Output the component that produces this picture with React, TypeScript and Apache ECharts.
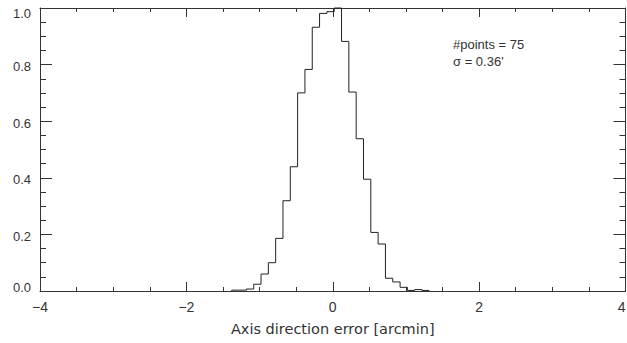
import React, { useEffect, useRef } from "react";
import * as echarts from "echarts";

const binStarts = [-1.38, -1.28, -1.18, -1.08, -0.98, -0.88, -0.78, -0.68, -0.58, -0.48, -0.38, -0.28, -0.18, -0.08, 0.02, 0.12, 0.22, 0.32, 0.42, 0.52, 0.62, 0.72, 0.82, 0.92, 1.02, 1.12, 1.22];
const binValues = [0.003, 0.003, 0.007, 0.024, 0.06, 0.1, 0.186, 0.319, 0.439, 0.7, 0.783, 0.932, 0.981, 0.987, 1.0, 0.882, 0.703, 0.538, 0.395, 0.207, 0.166, 0.045, 0.032, 0.013, 0.002, 0.005, 0.002];
const binWidth = 0.1;
const xTicks = [-4, -2, 0, 2, 4];
const yTicks = [0, 0.2, 0.4, 0.6, 0.8, 1.0];
const xTitle = "Axis direction error [arcmin]";
const annotationLines = ["#points = 75", "\u03c3 = 0.36'"];

const TICK_FONT = "Liberation Sans";
const TITLE_FONT = "DejaVu Sans";
const INK = "#333";

export default function App() {
  const ref = useRef<HTMLDivElement>(null);
  useEffect(() => {
    document.body.style.margin = "0";
    document.body.style.overflow = "hidden";
    document.documentElement.style.overflow = "hidden";
    if (!ref.current) return;
    const chart = echarts.init(ref.current, null, { renderer: "svg", width: 627, height: 343 });

    const stepData: number[][] = [[binStarts[0], 0]];
    binStarts.forEach((s, i) => stepData.push([s, binValues[i]]));
    stepData.push([binStarts[binStarts.length - 1] + binWidth, 0]);

    const baseX = {
      type: "value" as const,
      min: xTicks[0],
      max: xTicks[xTicks.length - 1],
      interval: xTicks[1] - xTicks[0],
      axisLine: { show: true, onZero: false, lineStyle: { color: INK, width: 1 } },
      axisTick: { show: true, inside: true, length: 9, lineStyle: { color: INK } },
      minorTick: { show: true, splitNumber: 4, length: 4, lineStyle: { color: INK } },
      splitLine: { show: false },
    };
    const baseY = {
      type: "value" as const,
      min: yTicks[0],
      max: yTicks[yTicks.length - 1],
      interval: yTicks[1] - yTicks[0],
      axisLine: { show: true, onZero: false, lineStyle: { color: INK, width: 1 } },
      axisTick: { show: true, inside: true, length: 12, lineStyle: { color: INK } },
      minorTick: { show: true, splitNumber: 4, length: 6, lineStyle: { color: INK } },
      splitLine: { show: false },
    };

    const yLabelStyle = { fontFamily: TICK_FONT, fontSize: 13, color: INK };

    chart.setOption({
      animation: false,
      backgroundColor: "#fff",
      grid: { left: 40, right: 1.5, top: 8, bottom: 52, containLabel: false, outerBoundsMode: "none" },
      xAxis: [
        {
          ...baseX,
          position: "bottom",
          axisLabel: {
            show: true,
            margin: 9,
            fontFamily: TICK_FONT,
            fontSize: 14,
            color: INK,
            alignMaxLabel: "right",
            formatter: (v: number) => String(v).replace("-", "\u2212"),
          },
          name: xTitle,
          nameLocation: "middle",
          nameGap: 30,
          nameTextStyle: { fontFamily: TITLE_FONT, fontSize: 14.5, color: INK },
        },
        { ...baseX, position: "top", axisLabel: { show: false } },
      ],
      yAxis: [
        {
          ...baseY,
          position: "left",
          axisLabel: {
            show: true,
            margin: 9,
            ...yLabelStyle,
            formatter: (v: number) => {
              const s = v.toFixed(1);
              if (v >= yTicks[yTicks.length - 1]) return "{t|" + s + "}";
              if (v <= yTicks[0]) return "{b|" + s + "}";
              return "{m|" + s + "}";
            },
            rich: {
              t: { ...yLabelStyle, padding: [11, 0, 0, 0] },
              b: { ...yLabelStyle, padding: [0, 0, 8, 0] },
              m: { ...yLabelStyle, padding: [4, 0, 0, 0] },
            },
          },
        },
        { ...baseY, position: "right", axisLabel: { show: false } },
      ],
      series: [
        {
          type: "line",
          step: "end",
          data: stepData,
          xAxisIndex: 0,
          yAxisIndex: 0,
          showSymbol: false,
          clip: false,
          lineStyle: { color: "#222", width: 1 },
        },
      ],
      graphic: [
        {
          type: "text",
          left: 453,
          top: 38,
          style: { text: annotationLines[0], fontFamily: TICK_FONT, fontSize: 13, fill: INK },
        },
        {
          type: "text",
          left: 453,
          top: 55,
          style: { text: annotationLines[1], fontFamily: TICK_FONT, fontSize: 13, fill: INK },
        },
      ],
    });
    return () => chart.dispose();
  }, []);
  return <div ref={ref} style={{ width: 627, height: 343 }} />;
}
